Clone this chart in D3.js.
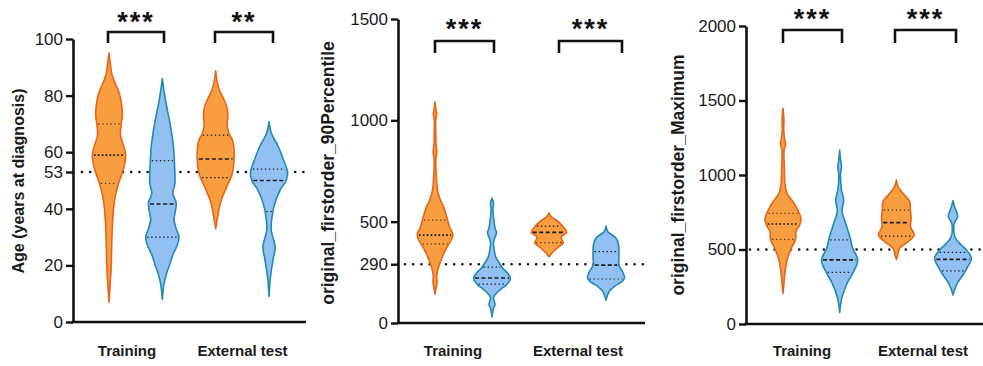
<!DOCTYPE html>
<html><head><meta charset="utf-8">
<script src="https://cdn.jsdelivr.net/npm/d3@7"></script>
<style>
html,body{margin:0;padding:0;background:#fff;}
svg{display:block;font-family:"Liberation Sans",Arial,sans-serif;}
</style></head>
<body><svg id="chart" width="983" height="366"></svg>
<script>
// ---------- DATA ----------
const categories = ["Training", "External test"];
const groups = ["Group A", "Group B"]; // orange, blue

// Panel 1: Age (years at diagnosis) — density profiles [value, relative half-width]
const ageTrainA = [[95,0],[90,0.1],[88,0.14],[84,0.35],[81,0.55],[77,0.68],[73,0.72],[70,0.66],[66,0.62],[62,0.8],[59,0.9],[55,0.82],[52,0.68],[49,0.52],[45,0.36],[41,0.26],[35,0.19],[28,0.15],[20,0.12],[14,0.07],[10,0.03],[7,0]];
const ageTrainB = [[86,0],[82,0.08],[78,0.18],[74,0.3],[70,0.42],[66,0.52],[62,0.6],[57,0.65],[52,0.68],[49,0.68],[45.5,0.57],[42,0.75],[39,0.7],[36,0.63],[33,0.75],[30,0.9],[27,0.8],[24,0.58],[20,0.38],[17,0.22],[13,0.08],[8,0]];
const ageExtA = [[88.8,0],[85,0.08],[82,0.2],[79,0.42],[76,0.6],[73,0.66],[70,0.62],[67,0.7],[64,0.92],[60,1.0],[56,0.98],[52,0.88],[49,0.68],[46,0.48],[43,0.3],[40,0.18],[36,0.08],[33,0]];
const ageExtB = [[70.8,0],[66.7,0.13],[62,0.5],[57,0.8],[53,1.0],[50,0.93],[46.6,0.6],[42,0.32],[37,0.16],[32.5,0.12],[26.6,0.33],[22,0.22],[16,0.08],[9,0]];
const ageQuartiles = [[49,59,70],[30,41.7,57],[51,57.6,66],[39,50,54]];
const ageTicks = [0,20,40,53,60,80,100];
const ageCutoff = 53;
const ageStars = ["***","**"];

// Panel 2: original_firstorder_90Percentile
const p90TrainA = [[1092,0],[1060,0.04],[1030,0.09],[1000,0.04],[940,0.04],[880,0.06],[845,0.1],[810,0.05],[760,0.05],[720,0.08],[680,0.1],[640,0.17],[600,0.32],[570,0.48],[540,0.58],[508,0.68],[470,0.8],[440,0.96],[420,0.93],[394,0.78],[370,0.62],[345,0.48],[310,0.33],[278,0.2],[250,0.12],[228,0.09],[200,0.11],[175,0.06],[143,0]];
const p90TrainB = [[617,0],[592,0.08],[557,0.05],[508,0.1],[470,0.16],[444,0.24],[420,0.15],[394,0.08],[360,0.12],[327,0.2],[300,0.36],[271,0.57],[245,0.85],[222,1.0],[205,0.92],[187,0.77],[170,0.52],[154,0.32],[138,0.15],[123,0.08],[105,0.13],[89,0.16],[72,0.08],[56,0.04],[30,0]];
const p90ExtA = [[544,0],[524,0.13],[500,0.5],[475,0.77],[447,0.96],[426,0.66],[410,0.7],[396,0.77],[370,0.45],[345,0.16],[326,0]];
const p90ExtB = [[478,0],[450,0.1],[430,0.4],[418,0.55],[385,0.68],[352,0.7],[320,0.7],[286,0.69],[253,0.9],[220,1.0],[200,0.8],[187,0.55],[170,0.32],[154,0.16],[113,0]];
const p90Quartiles = [[390,434,508],[192,222,276],[396,447,478],[217,286,352]];
const p90Ticks = [0,290,500,1000,1500];
const p90Cutoff = 290;
const p90Stars = ["***","***"];

// Panel 3: original_firstorder_Maximum
const maxTrainA = [[1447,0],[1369,0.05],[1302,0.04],[1250,0.08],[1213,0.14],[1180,0.08],[1146,0.05],[1034,0.08],[944,0.1],[877,0.22],[821,0.54],[765,0.8],[709,0.97],[664,0.9],[620,0.7],[568,0.68],[508,0.45],[430,0.22],[340,0.1],[270,0.05],[206,0]];
const maxTrainB = [[1168,0],[1100,0.05],[1056,0.1],[1010,0.05],[966,0.05],[899,0.1],[832,0.22],[790,0.16],[754,0.13],[676,0.32],[586,0.55],[508,0.7],[430,0.98],[351,0.75],[273,0.4],[183,0.13],[130,0.05],[76,0]];
const maxExtA = [[966,0],[921,0.1],[877,0.36],[821,0.72],[765,0.76],[709,0.8],[653,0.77],[597,0.96],[552,0.63],[508,0.18],[452,0.05],[434,0]];
const maxExtB = [[828,0],[788,0.08],[750,0.2],[720,0.25],[690,0.12],[664,0.05],[586,0.1],[541,0.36],[497,0.72],[441,1.0],[385,0.8],[329,0.54],[273,0.23],[217,0.05],[195,0]];
const maxQuartiles = [[568,671,743],[347,430,564],[590,680,765],[356,434,481]];
const maxTicks = [0,500,1000,1500,2000];
const maxCutoff = 500;
const maxStars = ["***","***"];

// ---------- LAYOUT ----------
const svg = d3.select("#chart");
const fillC = ["#F89E40", "#92C0F3"];
const strokeC = ["#E4661A", "#1E8BB3"];

const panels = [
  {label:"Age (years at diagnosis)", labelSize:16, labelX:18, labelY:181, ax:73, axEnd:306, yTop:39, yBot:322, max:100,
   ticks:ageTicks, cutoff:ageCutoff, refStart:82, vr:[109,269], labX:[127,242.5],
   profiles:[ageTrainA,ageTrainB,ageExtA,ageExtB], q:ageQuartiles, stars:ageStars,
   br:[[108,164],[215,273]], brTop:32, brBot:43, starY:16},
  {label:"original_firstorder_90Percentile", labelSize:17.5, labelX:328, labelY:173, ax:398, axEnd:645, yTop:19, yBot:323, max:1500,
   ticks:p90Ticks, cutoff:p90Cutoff, refStart:405, vr:[435,606], labX:[453,578],
   profiles:[p90TrainA,p90TrainB,p90ExtA,p90ExtB], q:p90Quartiles, stars:p90Stars,
   br:[[435,494],[559,622]], brTop:41, brBot:53, starY:23},
  {label:"original_firstorder_Maximum", labelSize:17.5, labelX:678, labelY:175, ax:746, axEnd:983, yTop:26, yBot:324, max:2000,
   ticks:maxTicks, cutoff:maxCutoff, refStart:750, vr:[783,953], labX:[802,923],
   profiles:[maxTrainA,maxTrainB,maxExtA,maxExtB], q:maxQuartiles, stars:maxStars,
   br:[[783,842],[895,956]], brTop:30, brBot:43, starY:13}
];

function halfAt(profile, v){
  const p = profile.slice().sort((a,b)=>a[0]-b[0]);
  for(let i=0;i<p.length-1;i++){
    if(v>=p[i][0] && v<=p[i+1][0]){
      const t=(v-p[i][0])/(p[i+1][0]-p[i][0]);
      return p[i][1]+t*(p[i+1][1]-p[i][1]);
    }
  }
  return 0;
}

panels.forEach(cfg=>{
  const g = svg.append("g");
  const y = d3.scaleLinear().domain([0,cfg.max]).range([cfg.yBot,cfg.yTop]);
  const x = d3.scalePoint().domain(d3.range(4)).range(cfg.vr);
  const w = d3.scaleLinear().domain([0,1]).range([0,18.5]);
  const xCat = d3.scaleOrdinal().domain(categories).range(cfg.labX);

  // reference dotted line
  g.append("line").attr("x1",cfg.refStart).attr("x2",cfg.axEnd)
    .attr("y1",y(cfg.cutoff)).attr("y2",y(cfg.cutoff))
    .attr("stroke","#111").attr("stroke-width",2.6).attr("stroke-linecap","round")
    .attr("stroke-dasharray","0,8.2");

  // violins
  cfg.profiles.forEach((prof,i)=>{
    const gi = i%2;
    const cx = x(i);
    const pts = prof.slice().sort((a,b)=>b[0]-a[0]);
    const left = pts.map(d=>[cx-w(d[1]), y(d[0])]);
    const right = pts.slice().reverse().map(d=>[cx+w(d[1]), y(d[0])]);
    const lineOpen = d3.line().curve(d3.curveCatmullRom.alpha(0.5));
    const dL = lineOpen(left);
    const dR = lineOpen(right);
    g.append("path").attr("d", dL + "L" + dR.slice(1) + "Z")
      .attr("fill",fillC[gi]).attr("stroke",strokeC[gi]).attr("stroke-width",1.6)
      .attr("stroke-linejoin","round");
    // quartile lines (training group A uses dotted median in the original)
    cfg.q[i].forEach((qv,k)=>{
      const hw = w(halfAt(prof,qv)) - 1.5;
      const dashedMedian = (k===1 && i!==0);
      g.append("line").attr("x1",cx-hw).attr("x2",cx+hw)
        .attr("y1",y(qv)).attr("y2",y(qv))
        .attr("stroke", i===0 && k!==1 ? "#5a3a1a" : "#1a1a1a")
        .attr("stroke-width", k===1?1.7:1.2)
        .attr("stroke-dasharray", dashedMedian?"4,2.5":(k===1?"1.7,2.2":"1.4,2.6"));
    });
  });

  // y axis
  const ya = g.append("g").attr("transform",`translate(${cfg.ax},0)`)
    .call(d3.axisLeft(y).tickValues(cfg.ticks).tickSize(7).tickSizeOuter(0).tickPadding(3).tickFormat(d3.format("d")));
  ya.select(".domain").attr("stroke","#111").attr("stroke-width",2.6);
  ya.selectAll(".tick line").attr("stroke","#111").attr("stroke-width",2.4);
  ya.selectAll(".tick text").attr("font-size",17).attr("fill","#1a1a1a")
    .attr("font-family","'Liberation Sans',Arial,sans-serif");

  // x axis line
  g.append("line").attr("x1",cfg.ax-1.3).attr("x2",cfg.axEnd).attr("y1",cfg.yBot).attr("y2",cfg.yBot)
    .attr("stroke","#111").attr("stroke-width",2.6);

  // category labels
  categories.forEach(c=>{
    g.append("text").attr("x",xCat(c)).attr("y",356).attr("text-anchor","middle")
      .attr("font-size",15).attr("font-weight","bold").attr("fill","#1a1a1a").text(c);
  });

  // y label
  g.append("text").attr("transform",`translate(${cfg.labelX},${cfg.labelY}) rotate(-90)`)
    .attr("text-anchor","middle").attr("dominant-baseline","central")
    .attr("font-size",cfg.labelSize).attr("font-weight","bold").attr("fill","#1a1a1a").text(cfg.label);

  // significance brackets
  cfg.br.forEach((b,k)=>{
    g.append("path").attr("d",`M${b[0]},${cfg.brBot}V${cfg.brTop}H${b[1]}V${cfg.brBot}`)
      .attr("fill","none").attr("stroke","#111").attr("stroke-width",2.6);
    g.append("text").attr("x",(b[0]+b[1])/2).attr("y",cfg.starY+15)
      .attr("text-anchor","middle").attr("font-size",27).attr("font-weight","bold")
      .attr("letter-spacing",2).attr("fill","#111").text(cfg.stars[k]);
  });
});
</script></body></html>
